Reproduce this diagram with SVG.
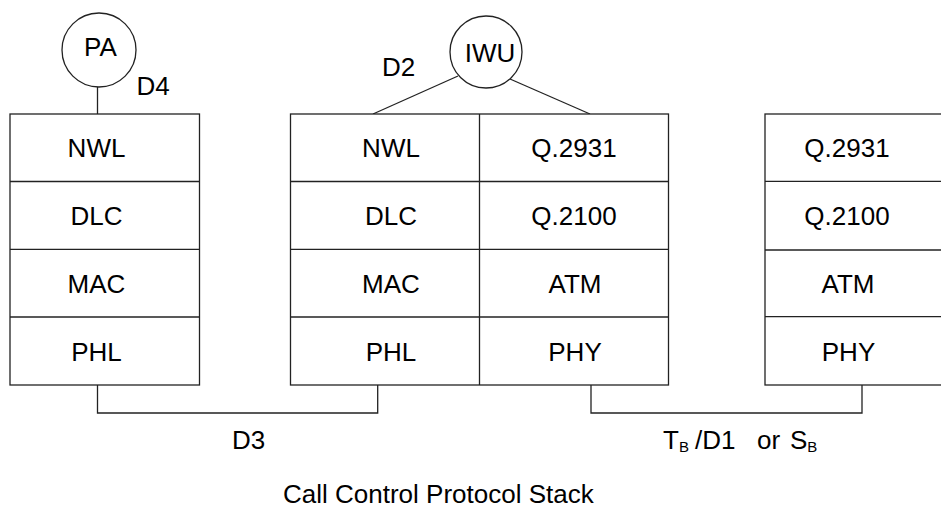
<svg xmlns="http://www.w3.org/2000/svg" width="941" height="510" viewBox="0 0 941 510">
<style>
.ln{fill:none;stroke:#222;stroke-width:1.3}
.bx{fill:#fff;stroke:#222;stroke-width:1.3}
text{font-family:"Liberation Sans",Arial,sans-serif;font-size:26px;fill:#000}
.c{text-anchor:middle}
.sub{font-size:15px}
</style>
<rect width="941" height="510" fill="#fff"/>
<g id="connectors">
<line class="ln" x1="97.5" y1="87" x2="97.5" y2="114"/>
<line class="ln" x1="458" y1="76" x2="373" y2="114"/>
<line class="ln" x1="510" y1="79" x2="590" y2="114"/>
<polyline class="ln" points="97.5,385 97.5,413 377.7,413 377.7,385"/>
<polyline class="ln" points="591,385 591,413 862,413 862,385"/>
</g>
<g id="PA">
<circle class="bx" cx="99" cy="50" r="37"/>
<text class="c" x="100.5" y="56">PA</text>
</g>
<g id="IWU">
<circle class="bx" cx="486" cy="52" r="36"/>
<text class="c" x="490" y="62">IWU</text>
</g>
<g id="stack-left">
<rect class="bx" x="10" y="114" width="189.5" height="271"/>
<line class="ln" x1="10" y1="181.5" x2="199.5" y2="181.5"/>
<line class="ln" x1="10" y1="249.3" x2="199.5" y2="249.3"/>
<line class="ln" x1="10" y1="317" x2="199.5" y2="317"/>
<text class="c" x="96.5" y="157.3">NWL</text>
<text class="c" x="96.5" y="224.8">DLC</text>
<text class="c" x="96.5" y="292.5">MAC</text>
<text class="c" x="96.5" y="360.5">PHL</text>
</g>
<g id="stack-middle">
<rect class="bx" x="290.5" y="114" width="378" height="271"/>
<line class="ln" x1="479.5" y1="114" x2="479.5" y2="385"/>
<line class="ln" x1="290.5" y1="181.5" x2="668.5" y2="181.5"/>
<line class="ln" x1="290.5" y1="249.3" x2="668.5" y2="249.3"/>
<line class="ln" x1="290.5" y1="317" x2="668.5" y2="317"/>
<text class="c" x="391" y="157.3">NWL</text>
<text class="c" x="391" y="224.8">DLC</text>
<text class="c" x="391" y="292.5">MAC</text>
<text class="c" x="391" y="360.5">PHL</text>
<text class="c" x="574" y="157.3">Q.2931</text>
<text class="c" x="574" y="224.8">Q.2100</text>
<text class="c" x="575" y="292.5">ATM</text>
<text class="c" x="575" y="360.5">PHY</text>
</g>
<g id="stack-right">
<rect class="bx" x="765" y="114" width="190" height="271"/>
<line class="ln" x1="765" y1="181.3" x2="955" y2="181.3"/>
<line class="ln" x1="765" y1="250" x2="955" y2="250"/>
<line class="ln" x1="765" y1="316.7" x2="955" y2="316.7"/>
<text class="c" x="847" y="157.3">Q.2931</text>
<text class="c" x="847" y="224.8">Q.2100</text>
<text class="c" x="848" y="292.5">ATM</text>
<text class="c" x="848.5" y="360.5">PHY</text>
</g>
<g id="labels">
<text x="136.5" y="95">D4</text>
<text x="382" y="76">D2</text>
<text x="232" y="449">D3</text>
<text x="663" y="449">T<tspan class="sub" dy="3">B</tspan><tspan dy="-3" x="695">/D1</tspan><tspan x="757">or</tspan><tspan x="790">S</tspan><tspan class="sub" dy="3">B</tspan></text>
<text x="283" y="503">Call Control Protocol Stack</text>
</g>
</svg>
